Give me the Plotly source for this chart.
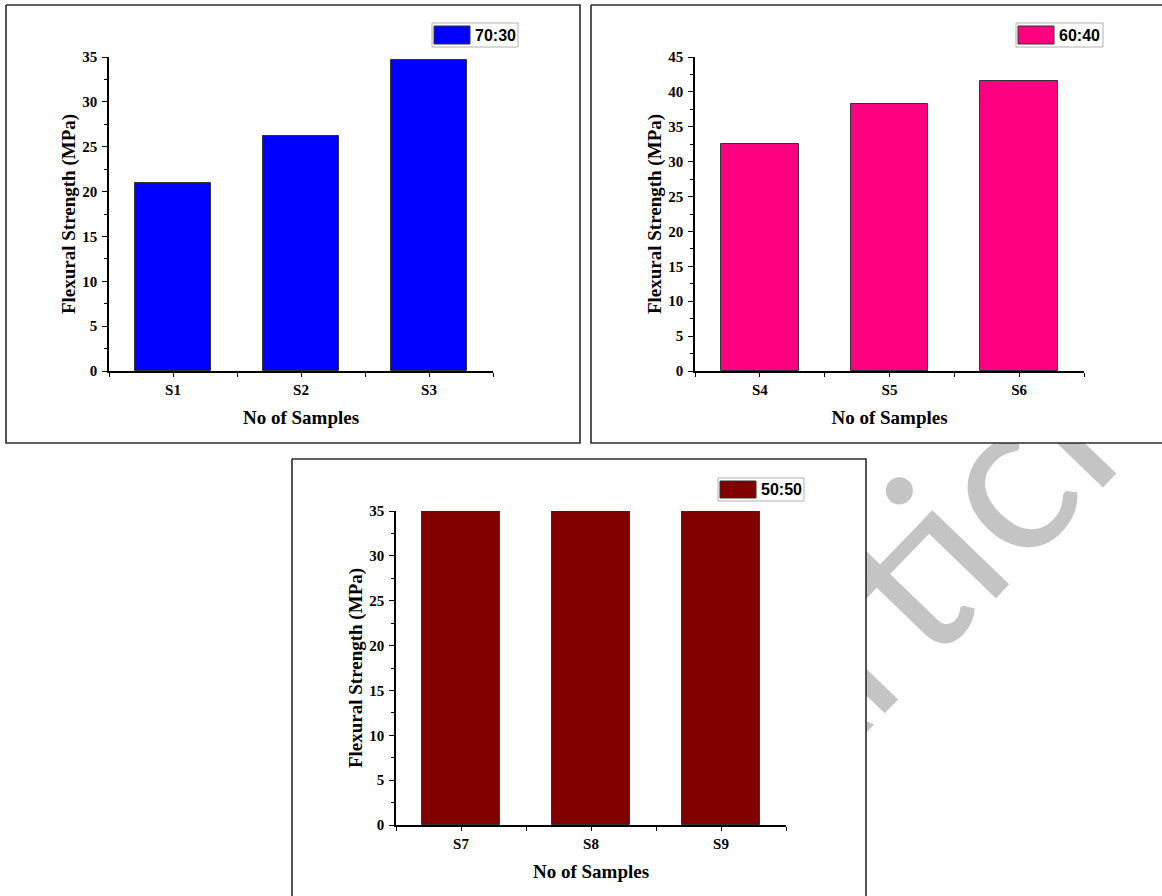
import plotly.graph_objects as go

W, H = 1162, 896

# ---- data -------------------------------------------------------------
samples_1 = ["S1", "S2", "S3"]
strength_1 = [21.0, 26.2, 34.7]

samples_2 = ["S4", "S5", "S6"]
strength_2 = [32.5, 38.3, 41.5]

samples_3 = ["S7", "S8", "S9"]
strength_3 = [35.0, 35.0, 35.0]

ratio_labels = ["70:30", "60:40", "50:50"]
bar_colors = ["#0000FF", "#FF0080", "#800000"]
y_limits = [35, 45, 35]

x_title = "No of Samples"
y_title = "Flexural Strength (MPa)"
watermark = "Article"

# ---- page geometry (pixels: left, top, right, bottom) ------------------
frames = [(6, 5, 580, 443), (591, 5, 1175, 443), (292, 459, 866, 910)]
plot_boxes = [(109, 57, 493, 371), (695, 57, 1084, 371), (396, 511, 786, 825)]
legend_boxes = [(432, 23, 518, 47), (1016, 23, 1103, 47), (718, 478, 804, 501)]

SERIF = "Liberation Serif, Times New Roman, serif"
SANS = "Liberation Sans, Arial, sans-serif"


def px(x):
    return x / W


def py(y):
    return 1 - y / H


fig = go.Figure()

# ---- page layer: watermark text, then the white framed panels on top ---
fig.add_trace(go.Bar(
    x=[930], y=[100], base=[497], width=[100],
    xaxis="x", yaxis="y",
    marker=dict(color="rgba(0,0,0,0)", line=dict(width=0)),
    text=[watermark], textposition="inside", insidetextanchor="middle",
    textangle=-46, constraintext="none",
    insidetextfont=dict(family="Lato, Open Sans, sans-serif", size=215, color="#c4c4c4"),
    hoverinfo="skip", showlegend=False,
))
for (l, t, r, b) in frames:
    fig.add_trace(go.Scatter(
        x=[l, r, r, l, l], y=[t, t, b, b, t],
        xaxis="x", yaxis="y", mode="lines", fill="toself",
        fillcolor="white", line=dict(color="#2b2b2b", width=1.6),
        hoverinfo="skip", showlegend=False,
    ))

layout = dict(
    width=W, height=H, autosize=False,
    margin=dict(l=0, r=0, t=0, b=0, pad=0, autoexpand=False),
    paper_bgcolor="white", plot_bgcolor="rgba(0,0,0,0)",
    showlegend=False, bargap=0,
    xaxis=dict(domain=[0, 1], range=[0, W], visible=False, fixedrange=True,
               automargin=False),
    yaxis=dict(domain=[0, 1], range=[H, 0], visible=False, fixedrange=True,
               automargin=False),
)

shapes = []
annotations = []

panels = [
    (samples_1, strength_1),
    (samples_2, strength_2),
    (samples_3, strength_3),
]

for i, (samples, values) in enumerate(panels):
    n = i + 2
    xa, ya = f"x{n}", f"y{n}"
    positions = list(range(len(samples)))
    fig.add_trace(go.Bar(
        x=positions, y=values, width=0.6,
        xaxis=xa, yaxis=ya, name=ratio_labels[i],
        marker=dict(color=bar_colors[i], line=dict(color="#333333", width=1)),
        showlegend=False,
    ))
    l, t, r, b = plot_boxes[i]
    tick_font = dict(family=SERIF, size=15, color="black", weight="bold")
    title_font = dict(family=SERIF, size=19, color="black", weight="bold")
    layout[f"xaxis{n}"] = dict(
        domain=[px(l), px(r)], anchor=ya, automargin=False,
        range=[-0.5, len(samples) - 0.5],
        tickmode="array", tickvals=positions, ticktext=samples,
        ticks="outside", ticklen=4, tickwidth=1.4, tickcolor="black",
        minor=dict(tickmode="array",
                   tickvals=[p - 0.5 for p in positions] + [len(samples) - 0.5],
                   ticks="outside", ticklen=4, tickwidth=1.4, tickcolor="black"),
        showline=True, linecolor="black", linewidth=1.5,
        showgrid=False, zeroline=False, fixedrange=True,
        tickfont=tick_font, ticklabelstandoff=0,
        title=dict(text=x_title, standoff=14, font=title_font),
    )
    layout[f"yaxis{n}"] = dict(
        domain=[py(b), py(t)], anchor=xa, automargin=False,
        range=[0, y_limits[i]], dtick=5, tick0=0,
        ticks="outside", ticklen=5, tickwidth=1.4, tickcolor="black",
        minor=dict(dtick=2.5, tick0=0, ticks="outside", ticklen=3,
                   tickwidth=1.2, tickcolor="black"),
        showline=True, linecolor="black", linewidth=1.5,
        showgrid=False, zeroline=False, fixedrange=True,
        tickfont=tick_font, ticklabelstandoff=2,
        title=dict(text=y_title, standoff=2, font=title_font),
    )

    # legend box with colour swatch and label
    ll, lt, lr, lb = legend_boxes[i]
    shapes.append(dict(type="rect", xref="paper", yref="paper", layer="above",
                       x0=px(ll), x1=px(lr), y0=py(lb), y1=py(lt),
                       line=dict(color="#b0b0b0", width=1), fillcolor="white"))
    shapes.append(dict(type="rect", xref="paper", yref="paper", layer="above",
                       x0=px(ll + 2), x1=px(ll + 38), y0=py(lb - 3), y1=py(lt + 3),
                       line=dict(color="#333333", width=1), fillcolor=bar_colors[i]))
    annotations.append(dict(xref="paper", yref="paper", x=px(ll + 41), y=py((lt + lb) / 2),
                            xanchor="left", yanchor="middle", showarrow=False,
                            text=ratio_labels[i],
                            font=dict(family=SANS, size=16, color="black", weight="bold")))

layout["shapes"] = shapes
layout["annotations"] = annotations
fig.update_layout(**layout)

fig.write_html("out.html")
